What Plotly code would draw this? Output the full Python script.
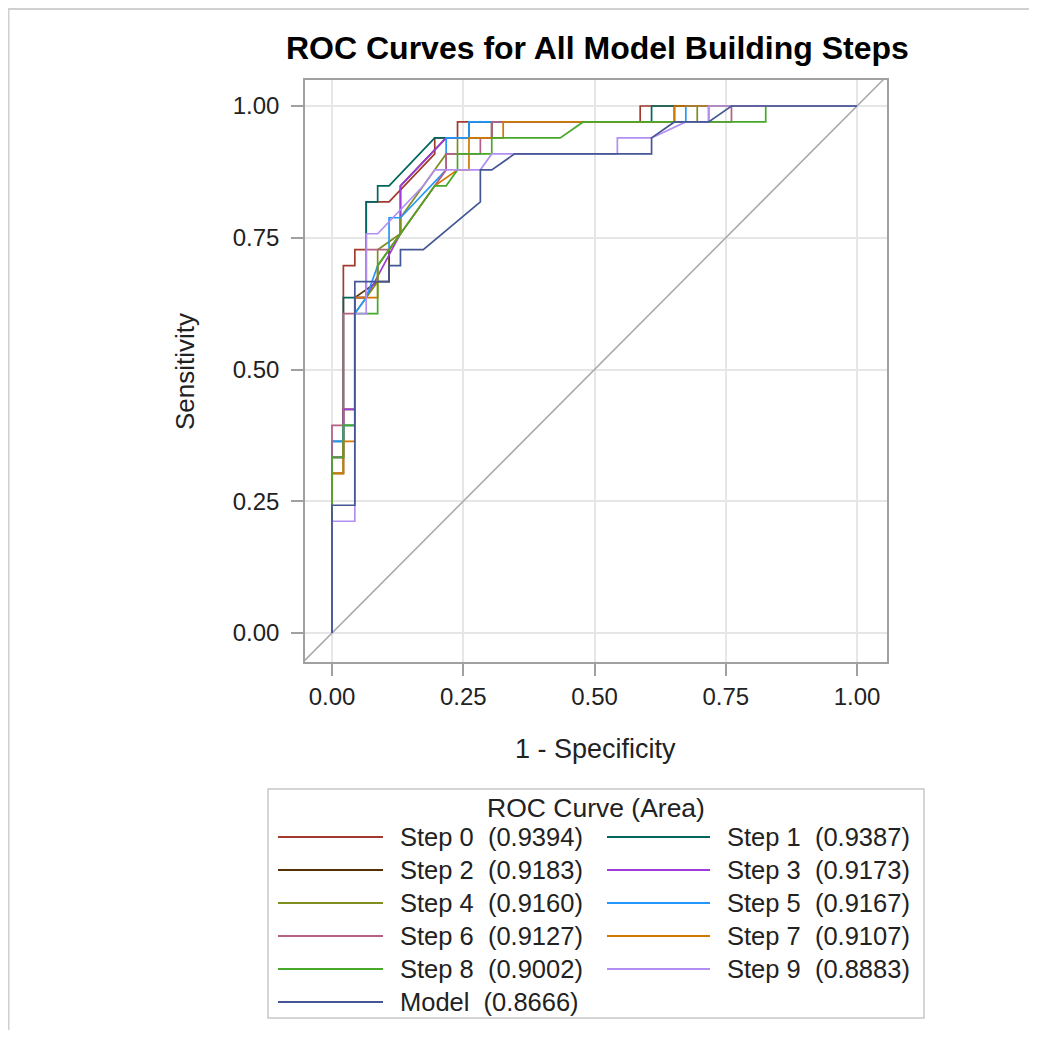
import plotly.graph_objects as go

# ---------------- data ----------------
names = ["Step 0", "Step 1", "Step 2", "Step 3", "Step 4", "Step 5",
         "Step 6", "Step 7", "Step 8", "Step 9", "Model"]
areas = ["0.9394", "0.9387", "0.9183", "0.9173", "0.9160", "0.9167",
         "0.9127", "0.9107", "0.9002", "0.8883", "0.8666"]
colors = ["#A23A2E", "#01665E", "#543005", "#9D3CDB", "#7F8E1F", "#2597FA",
          "#B26084", "#D17800", "#47A82A", "#B38EF3", "#445694"]

step0_fpr = [0, 0, .0217, .0217, .0435, .0435, .0652, .0652, .1087, .1957, .1957, .2391, .2391, .5870, .5870, 1]
step0_tpr = [0, .3030, .3030, .6970, .6970, .7273, .7273, .8182, .8182, .9091, .9394, .9394, .9697, .9697, 1, 1]

step1_fpr = [0, 0, .0217, .0217, .0652, .0652, .0870, .0870, .1087, .1957, .2609, .2609, .6087, .6087, 1]
step1_tpr = [0, .3636, .3636, .6364, .6364, .8182, .8182, .8485, .8485, .9394, .9394, .9697, .9697, 1, 1]

step2_fpr = [0, 0, .0217, .0217, .0435, .0435, .0870, .1087, .1087, .1304, .1304, .2174, .3043, .3043, .6522, .6522, 1]
step2_tpr = [0, .3333, .3333, .4242, .4242, .6364, .6667, .6667, .7273, .7576, .8485, .9394, .9394, .9697, .9697, 1, 1]

step3_fpr = [0, 0, .0217, .0217, .0435, .0435, .0652, .1304, .1304, .2174, .3043, .3043, .7174, .7174, 1]
step3_tpr = [0, .3333, .3333, .4242, .4242, .6364, .6364, .7576, .8485, .9394, .9394, .9697, .9697, 1, 1]

step4_fpr = [0, 0, .0217, .0217, .0435, .0435, .0870, .0870, .1304, .1304, .2174, .2391, .2391, .3043, .3043, .6957, .6957, 1]
step4_tpr = [0, .3030, .3030, .3939, .3939, .6061, .6667, .7273, .7576, .7879, .9091, .9091, .9394, .9394, .9697, .9697, 1, 1]

step5_fpr = [0, 0, .0217, .0217, .0435, .0435, .0652, .0870, .1087, .1087, .1304, .2174, .2174, .2609, .2609, .6739, .6739, 1]
step5_tpr = [0, .3636, .3636, .3939, .3939, .6061, .6364, .6970, .7273, .7879, .7879, .8788, .9394, .9394, .9697, .9697, 1, 1]

step6_fpr = [0, 0, .0217, .0217, .0435, .0435, .0652, .0652, .1087, .2174, .2174, .2826, .2826, .3043, .3043, .7609, .7609, 1]
step6_tpr = [0, .3939, .3939, .6061, .6061, .6364, .6364, .7273, .7273, .8788, .9091, .9091, .9394, .9394, .9697, .9697, 1, 1]

step7_fpr = [0, 0, .0217, .0217, .0435, .0435, .0870, .0870, .1087, .1957, .2391, .2609, .2609, .3261, .3261, .6522, .6522, 1]
step7_tpr = [0, .3030, .3030, .3636, .3636, .6364, .6364, .6970, .7273, .8485, .8788, .8788, .9394, .9394, .9697, .9697, 1, 1]

step8_fpr = [0, 0, .0217, .0217, .0435, .0435, .0870, .0870, .1957, .2174, .2391, .2391, .3043, .3043, .4348, .4783, .8261, .8261, 1]
step8_tpr = [0, .3333, .3333, .3939, .3939, .6061, .6061, .6970, .8485, .8485, .8788, .9091, .9091, .9394, .9394, .9697, .9697, 1, 1]

step9_fpr = [0, 0, .0435, .0435, .0652, .0652, .0870, .1739, .1957, .2826, .3043, .5435, .5435, .6087, .6739, .7174, .7174, 1]
step9_tpr = [0, .2121, .2121, .6061, .6061, .7576, .7576, .8485, .8788, .8788, .9091, .9091, .9394, .9394, .9697, .9697, 1, 1]

model_fpr = [0, 0, .0435, .0435, .1087, .1087, .1304, .1304, .1739, .2826, .2826, .3043, .3478, .6087, .6087, .6522, .7174, .7609, 1]
model_tpr = [0, .2424, .2424, .6667, .6667, .6970, .6970, .7273, .7273, .8182, .8788, .8788, .9091, .9091, .9394, .9697, .9697, 1, 1]

fpr_list = [step0_fpr, step1_fpr, step2_fpr, step3_fpr, step4_fpr, step5_fpr,
            step6_fpr, step7_fpr, step8_fpr, step9_fpr, model_fpr]
tpr_list = [step0_tpr, step1_tpr, step2_tpr, step3_tpr, step4_tpr, step5_tpr,
            step6_tpr, step7_tpr, step8_tpr, step9_tpr, model_tpr]

tick_vals = [0, 0.25, 0.5, 0.75, 1.0]
tick_text = ["0.00", "0.25", "0.50", "0.75", "1.00"]

# ---------------- layout geometry ----------------
# the page body has an 8px margin, so the figure is placed 8px in from the corner
OFF = 8
W, H = 1037 - 2 * OFF, 1038 - 2 * OFF
# plot area in page pixels
PL, PR, PT, PB = 305, 887, 80, 662
L, R, T, B = PL - OFF, PR - OFF, PT - OFF, PB - OFF
FONT = "Liberation Sans, Arial, sans-serif"
TXT = "#222222"


def px(X):
    """page x pixel -> paper x"""
    return (X - OFF - L) / (R - L)


def py(Y):
    """page y pixel -> paper y"""
    return (B - (Y - OFF)) / (B - T)


fig = go.Figure()

# diagonal reference line
fig.add_trace(go.Scatter(x=[-0.2, 1.2], y=[-0.2, 1.2], mode="lines",
                         line=dict(color="#A8A8A8", width=1.5),
                         hoverinfo="skip", showlegend=False))

for nm, ar, col, fx, ty in zip(names, areas, colors, fpr_list, tpr_list):
    fig.add_trace(go.Scatter(x=fx, y=ty, mode="lines", name=f"{nm}  ({ar})",
                             line=dict(color=col, width=1.7),
                             showlegend=False))

axis_common = dict(
    tickvals=tick_vals, ticktext=tick_text,
    ticks="outside", ticklen=12, tickwidth=1.5, tickcolor="#A0A0A0",
    showgrid=True, gridcolor="#E6E6E6", gridwidth=1.5,
    showline=True, mirror=True, linecolor="#A0A0A0", linewidth=1.5,
    zeroline=False, tickfont=dict(family=FONT, size=24, color=TXT),
    fixedrange=True,
)

fig.update_layout(
    width=W, height=H, autosize=False,
    margin=dict(l=L, r=W - R, t=T, b=H - B, pad=0),
    paper_bgcolor="white", plot_bgcolor="white",
    showlegend=False,
    xaxis=dict(range=[-0.0514, 1.0571], **axis_common),
    yaxis=dict(range=[-0.0550, 1.0493], ticklabelstandoff=7, **axis_common),
)

annotations = []
shapes = []

# titles
annotations.append(dict(x=px(597), y=py(48), xref="paper", yref="paper",
                        text="<b>ROC Curves for All Model Building Steps</b>",
                        showarrow=False, xanchor="center", yanchor="middle",
                        font=dict(family=FONT, size=32, color="#000000")))
annotations.append(dict(x=px(595), y=py(749), xref="paper", yref="paper",
                        text="1 - Specificity", showarrow=False,
                        xanchor="center", yanchor="middle",
                        font=dict(family=FONT, size=27, color=TXT)))
annotations.append(dict(x=px(185), y=py(372), xref="paper", yref="paper",
                        text="Sensitivity", showarrow=False, textangle=-90,
                        xanchor="center", yanchor="middle",
                        font=dict(family=FONT, size=26, color=TXT)))

# outer frame of the graph image (top and left edges)
shapes.append(dict(type="path", xref="paper", yref="paper",
                   path=f"M {px(8.5)} {py(1050)} L {px(8.5)} {py(9)} L {px(1050)} {py(9)}",
                   line=dict(color="#D0D0D0", width=2)))

# legend box
shapes.append(dict(type="rect", xref="paper", yref="paper",
                   x0=px(268), x1=px(924), y0=py(1018), y1=py(789),
                   line=dict(color="#C8C8C8", width=1.5), fillcolor="white",
                   layer="below"))
annotations.append(dict(x=px(596), y=py(808), xref="paper", yref="paper",
                        text="ROC Curve (Area)", showarrow=False,
                        xanchor="center", yanchor="middle",
                        font=dict(family=FONT, size=26.5, color=TXT)))

row_y0, row_dy = 837, 33.0
col_line_x = [(278, 383), (607, 710)]
col_text_x = [398, 725]
for i, (nm, ar, col) in enumerate(zip(names, areas, colors)):
    r, c = divmod(i, 2)
    Y = row_y0 + r * row_dy
    x0, x1 = col_line_x[c]
    shapes.append(dict(type="line", xref="paper", yref="paper",
                       x0=px(x0), x1=px(x1), y0=py(Y), y1=py(Y),
                       line=dict(color=col, width=2)))
    annotations.append(dict(x=px(col_text_x[c]), y=py(Y), xref="paper", yref="paper",
                            text=f"{nm}\u00a0\u00a0({ar})", showarrow=False,
                            xanchor="left", yanchor="middle",
                            font=dict(family=FONT, size=25.5, color=TXT)))

fig.update_layout(annotations=annotations, shapes=shapes)

fig.write_html("out.html")
